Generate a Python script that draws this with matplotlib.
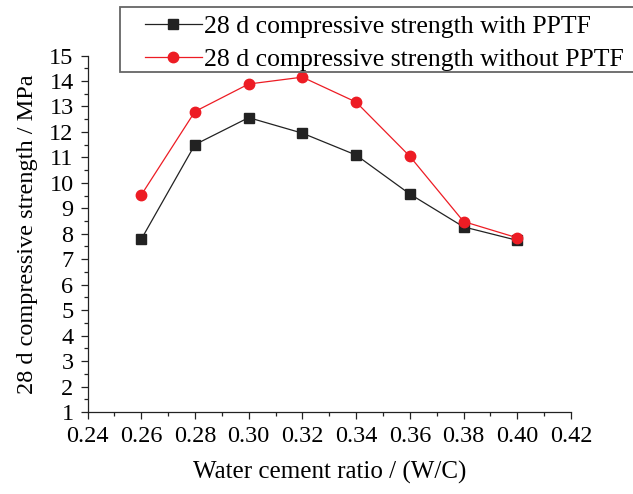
import matplotlib
matplotlib.use("Agg")
import matplotlib.pyplot as plt
from matplotlib.ticker import MultipleLocator
from matplotlib.patches import Rectangle

plt.rcParams['font.family'] = ['Liberation Serif', 'DejaVu Serif']

# данные
wc = [0.26, 0.28, 0.30, 0.32, 0.34, 0.36, 0.38, 0.40]
with_pptf = [7.78, 11.50, 12.56, 11.95, 11.09, 9.56, 8.27, 7.74]
without_pptf = [9.52, 12.80, 13.88, 14.15, 13.17, 11.04, 8.48, 7.84]
xtick_vals = [0.24, 0.26, 0.28, 0.30, 0.32, 0.34, 0.36, 0.38, 0.40, 0.42]
xtick_labels = ['0.24', '0.26', '0.28', '0.30', '0.32', '0.34', '0.36', '0.38', '0.40', '0.42']

W, H = 633, 494
fig = plt.figure(figsize=(W / 100, H / 100), dpi=100)
ax = fig.add_axes([87.5 / W, 1 - 412 / H, (571 - 87.5) / W, (412 - 55.5) / H])

ax.plot(wc, with_pptf, color='#222222', lw=0.9, marker='s', ms=6.5,
        label='28 d compressive strength with PPTF')
ax.plot(wc, without_pptf, color='#ed1c24', lw=0.9, marker='o', ms=7.5,
        label='28 d compressive strength without PPTF')

ax.set_xlim(0.24, 0.42)
ax.set_ylim(1, 15)
ax.set_xticks(xtick_vals)
ax.set_xticklabels(xtick_labels)
ax.xaxis.set_minor_locator(MultipleLocator(0.01))
ax.yaxis.set_major_locator(MultipleLocator(1))
ax.yaxis.set_minor_locator(MultipleLocator(0.5))
ax.tick_params(which='major', length=5, width=0.9, labelsize=17.5, color='#222222')
ax.tick_params(which='minor', length=3, width=0.9, color='#222222')
ax.tick_params(axis='y', pad=5)
ax.tick_params(axis='x', pad=5)
ax.spines['top'].set_visible(False)
ax.spines['right'].set_visible(False)
for s in ['left', 'bottom']:
    ax.spines[s].set_linewidth(0.9)
    ax.spines[s].set_color('#222222')

ax.set_xlabel('Water cement ratio / (W/C)', fontsize=18, labelpad=10)
ax.set_ylabel('28 d compressive strength / MPa', fontsize=17.5, labelpad=8)

# рамка легенды выходит за правый край
frame = Rectangle((120 / W, 1 - 72.3 / H), 530 / W, 65.6 / H, transform=fig.transFigure,
                  facecolor='white', edgecolor='#666666', lw=1.3, clip_on=False, zorder=5)
fig.patches.append(frame)

leg = fig.legend(loc='upper left', bbox_to_anchor=(145 / W, 1 - 15.5 / H),
                 fontsize=18.5, frameon=False, handlelength=2.2,
                 handletextpad=0.08, borderpad=0, labelspacing=0.37,
                 borderaxespad=0)
leg.set_zorder(6)

fig.savefig('out.png', dpi=100)
